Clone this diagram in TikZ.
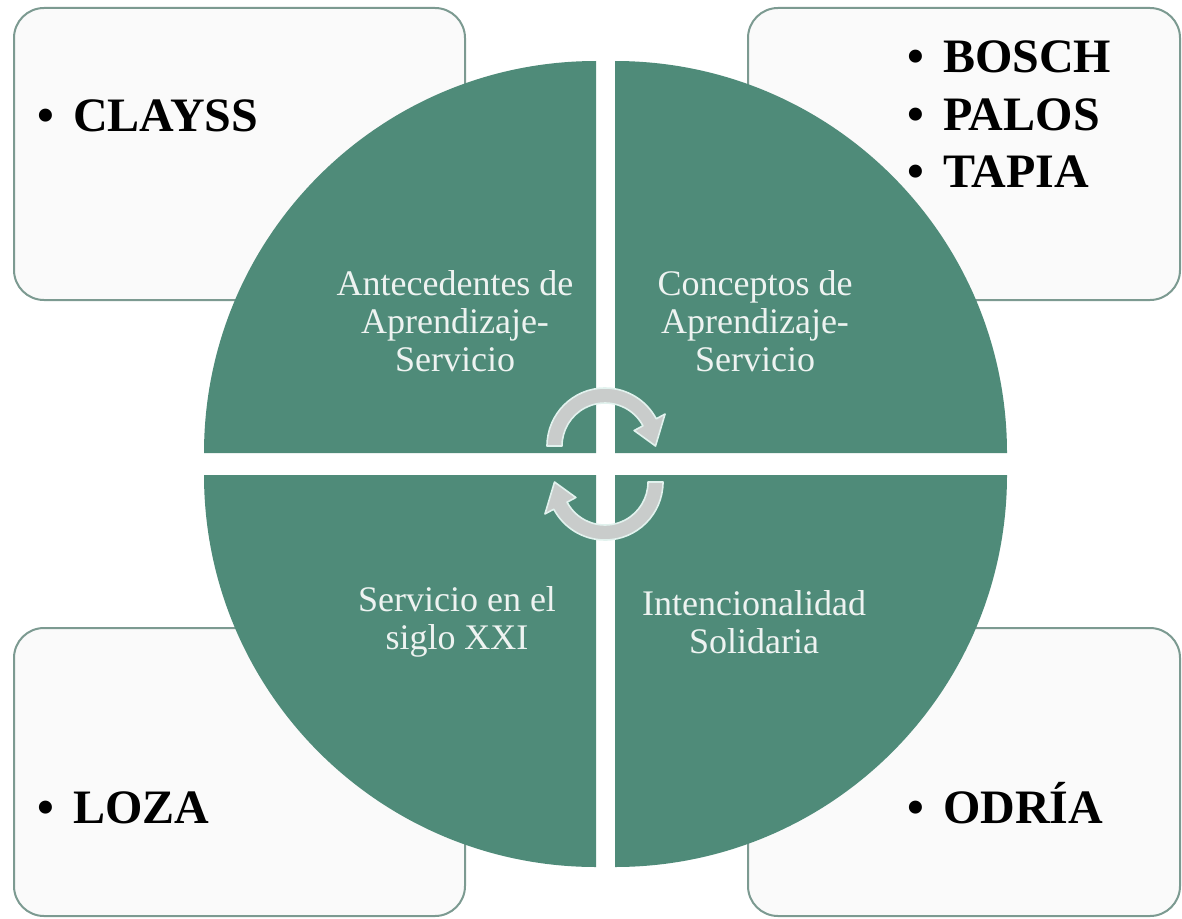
\documentclass[tikz,border=0pt]{standalone}
\usepackage{fontspec}
\setmainfont{Liberation Serif}
\definecolor{verdecirc}{HTML}{4F8B79}
\definecolor{bordecaja}{HTML}{7C9A91}
\definecolor{fondocaja}{HTML}{FAFAFA}
\definecolor{textocirc}{HTML}{EEF3F1}
\definecolor{flechagris}{HTML}{C9CCCB}
\definecolor{flechaborde}{HTML}{E2F2EE}

\begin{document}
\begin{tikzpicture}[x=0.5pt, y=0.5pt,
    caja/.style={draw=bordecaja, line width=1pt, fill=fondocaja, rounded corners=15pt, inner sep=0pt},
    autor/.style={anchor=base west, inner sep=0pt, font=\fontsize{24}{28}\selectfont\bfseries},
    cuarto/.style={fill=verdecirc},
    tema/.style={align=center, text=textocirc, inner sep=0pt, font=\fontsize{18}{19}\selectfont},
    flecha/.style={fill=flechagris, draw=flechaborde, line width=0.8pt, line join=round}]

    \useasboundingbox (0,0) rectangle (1182,918);

    \node [caja, minimum width=225.5pt, minimum height=146pt] (cajaTL) at (239.5,764) {};
    \node [caja, minimum width=216pt, minimum height=146pt] (cajaTR) at (964,764) {};
    \node [caja, minimum width=225.5pt, minimum height=144pt] (cajaBL) at (239.5,146) {};
    \node [caja, minimum width=216pt, minimum height=144pt] (cajaBR) at (964,146) {};

    \fill [cuarto] (596,465) -- ++(-392,0) arc[start angle=180, end angle=90, radius=392] -- cycle;
    \fill [cuarto] (615,465) -- ++(0,392) arc[start angle=90, end angle=0, radius=392] -- cycle;
    \fill [cuarto] (596,443) -- ++(0,-392) arc[start angle=270, end angle=180, radius=392] -- cycle;
    \fill [cuarto] (615,443) -- ++(392,0) arc[start angle=0, end angle=-90, radius=392] -- cycle;

    \node [autor] (clayss) at (37,786) {•\hspace{9.5pt}CLAYSS};
    \node [autor] (bosch) at (907,845) {•\hspace{9.5pt}BOSCH};
    \node [autor] (palos) at (907,788) {•\hspace{9.5pt}PALOS};
    \node [autor] (tapia) at (907,731) {•\hspace{9.5pt}TAPIA};
    \node [autor] (loza) at (37,95) {•\hspace{9.5pt}LOZA};
    \node [autor] (odria) at (907,95) {•\hspace{9.5pt}ODRÍA};

    \node [tema] (antecedentes) at (455,597) {Antecedentes de\\Aprendizaje-\\Servicio};
    \node [tema] (conceptos) at (755,597) {Conceptos de\\Aprendizaje-\\Servicio};
    \node [tema] (servicio) at (457,296) {Servicio en el\\siglo XXI};
    \node [tema] (intencion) at (754,296) {Intencionalidad\\Solidaria};

    \filldraw [flecha, shift={(605,472)}] (180:58) arc[start angle=180, end angle=28, radius=58]
        -- (28:68) -- (0:50.5) -- (28:33) -- (28:43) arc[start angle=28, end angle=180, radius=43] -- cycle;
    \filldraw [flecha, shift={(605,436)}] (0:58) arc[start angle=0, end angle=-152, radius=58]
        -- (-152:68) -- (180:50.5) -- (-152:33) -- (-152:43) arc[start angle=-152, end angle=0, radius=43] -- cycle;
\end{tikzpicture}
\end{document}
